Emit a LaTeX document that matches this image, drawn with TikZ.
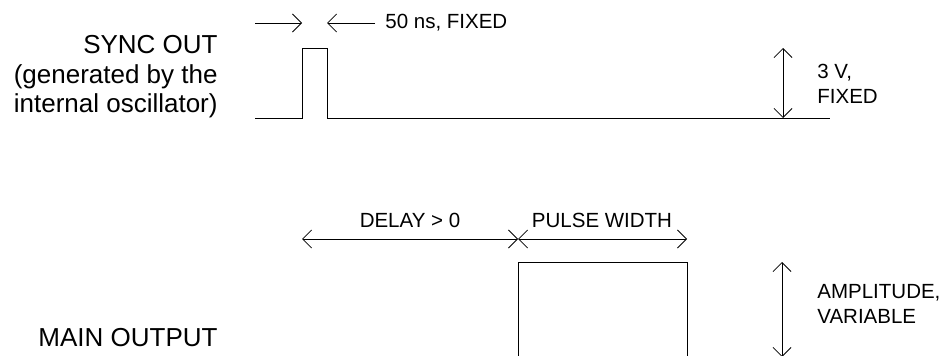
\documentclass[tikz,border=0pt]{standalone}
\usepackage{fontspec}
\setmainfont{Liberation Sans}
\usetikzlibrary{arrows.meta}
\tikzset{>={Straight Barb[length=9pt,width=18pt]},
  biglabel/.style={font=\fontsize{26}{29.5}\selectfont,align=right,anchor=east,inner sep=0pt},
  smalllabel/.style={font=\fontsize{20.5}{25.5}\selectfont,align=left,anchor=west,inner sep=0pt}}

\begin{document}
\begin{tikzpicture}[x=1pt,y=-1pt,line width=0.8pt]
  \useasboundingbox (0,0) rectangle (945,356);
  \clip (0,0) rectangle (945,356);
  % sync out waveform
  \node[biglabel] (sync) at (218,77) {SYNC OUT\\(generated by the\\internal oscillator)};
  \coordinate (s0) at (255,118);
  \coordinate (s1) at (302,118);
  \coordinate (s2) at (302,48);
  \coordinate (s3) at (327,48);
  \coordinate (s4) at (327,118);
  \coordinate (s5) at (830,118);
  \draw (s0) -- (s1) -- (s2) -- (s3) -- (s4) -- (s5);
  \coordinate (wa) at (255,23);
  \coordinate (wb) at (375,23);
  \draw[->] (wa) -- (s1 |- wa);
  \draw[->] (wb) -- (s4 |- wb);
  \node[smalllabel] (width) at (385,23) {50 ns, FIXED};
  \coordinate (h) at (783,48);
  \draw[<->] (h) -- (h |- s5);
  \node[smalllabel] (level) at (817,84) {3 V,\\FIXED};
  % main output waveform
  \node[biglabel] (main) at (218,338) {MAIN OUTPUT};
  \coordinate (m0) at (518,380);
  \coordinate (m1) at (518,262);
  \coordinate (m2) at (687,262);
  \coordinate (m3) at (687,380);
  \draw (m0) -- (m1) -- (m2) -- (m3);
  \coordinate (d0) at (302,239);
  \draw[<->] (d0) -- (m1 |- d0);
  \draw[<->] (m1 |- d0) -- (m2 |- d0);
  \node[smalllabel,anchor=center] (delay) at (410,220) {DELAY > 0};
  \node[smalllabel,anchor=center] (pw) at (602,220) {PULSE WIDTH};
  \coordinate (a0) at (782,262);
  \coordinate (a1) at (782,357);
  \draw[<->] (a0) -- (a1);
  \node[smalllabel] (amp) at (817,304) {AMPLITUDE,\\VARIABLE};
\end{tikzpicture}
\end{document}
